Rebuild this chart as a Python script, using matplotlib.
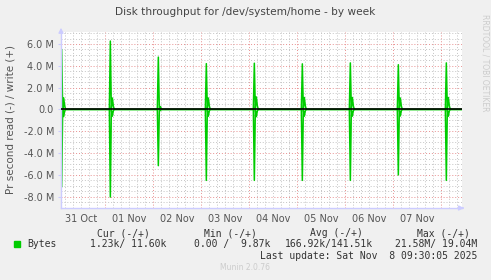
import numpy as np
import pandas as pd
import matplotlib
matplotlib.use("Agg")
import matplotlib.pyplot as plt
import matplotlib.dates as mdates
from matplotlib.ticker import MultipleLocator, FuncFormatter

# daily spike around 02:30, values in MBytes per second
spike_times = ["2025-10-31 02:20", "2025-11-01 02:40", "2025-11-02 02:40",
               "2025-11-03 02:40", "2025-11-04 02:40", "2025-11-05 02:40",
               "2025-11-06 02:40", "2025-11-07 02:40", "2025-11-08 02:40"]
write_peak = [5.5, 6.27, 4.8, 4.2, 4.24, 4.18, 4.27, 4.1, 4.27]
write_echo = [1.06, 1.05, 0.27, 1.05, 1.15, 1.1, 1.1, 1.05, 1.1]
read_peak = [7.1, 8.03, 5.15, 6.5, 6.5, 6.5, 6.5, 6.0, 6.5]
read_echo = [0.65, 0.62, 0.1, 0.62, 0.66, 0.62, 0.62, 0.6, 0.62]

x_start = "2025-10-31 02:00"
x_end = "2025-11-08 10:30"

# build the 30 minute series: baseline, spike, dip, echo, settle
t, w, r = [pd.Timestamp(x_start)], [0.0], [0.0]
for st, wp, we, rp, re in zip(spike_times, write_peak, write_echo, read_peak, read_echo):
    s = pd.Timestamp(st)
    step = pd.Timedelta(minutes=30)
    t += [s - step, s, s + step, s + 2 * step, s + 3 * step, s + 4 * step]
    w += [0.0, wp, 0.02, we, we * 0.3, 0.0]
    r += [0.0, -rp, -0.02, -re, -re * 0.2, 0.0]
t.append(pd.Timestamp(x_end))
w.append(0.0)
r.append(0.0)

fig = plt.figure(figsize=(4.91, 2.80), dpi=100, facecolor="#f0f0f0")
ax = fig.add_axes([61 / 491, 1 - 208 / 280, 401 / 491, 176 / 280], facecolor="white")

ax.plot(t, r, color="#00cc00", lw=1.1)
ax.plot(t, w, color="#00cc00", lw=1.1)
ax.axhline(0, color="black", lw=1.2, zorder=3)

ax.set_xlim(pd.Timestamp(x_start), pd.Timestamp(x_end))
ax.set_ylim(-9.03, 7.1)

# grids
ax.xaxis.set_major_locator(mdates.DayLocator())
ax.xaxis.set_minor_locator(mdates.HourLocator(byhour=[4, 8, 12, 16, 20]))
ax.xaxis.set_major_formatter(FuncFormatter(lambda v, p: ""))
ax.xaxis.set_minor_formatter(FuncFormatter(
    lambda v, p: mdates.num2date(v).strftime("%d %b") if mdates.num2date(v).hour == 12 else ""))
ax.yaxis.set_major_locator(MultipleLocator(2))
ax.yaxis.set_minor_locator(MultipleLocator(0.5))
ax.yaxis.set_major_formatter(FuncFormatter(lambda v, p: "0.0" if abs(v) < 1e-9 else "%.1f M" % v))

ax.grid(which="major", color="#e89090", lw=0.7, ls=(0, (1, 2)))
ax.grid(which="minor", color="#c4c4c4", lw=0.7, ls=(0, (1, 2)))
ax.set_axisbelow(True)

ax.tick_params(axis="x", which="both", length=0, labelsize=7, colors="#555555", pad=4)
ax.tick_params(axis="y", which="major", length=2, labelsize=7, colors="#555555", pad=3)
ax.tick_params(axis="y", which="minor", length=0)
ax.tick_params(axis="y", which="major", color="#ccccff")

for side in ["top", "right"]:
    ax.spines[side].set_visible(False)
for side in ["left", "bottom"]:
    ax.spines[side].set_color("#ccccff")
    ax.spines[side].set_linewidth(1.0)

# axis arrows
ax.annotate("", xy=(0, 1.04), xytext=(0, 0.99), xycoords="axes fraction",
            arrowprops=dict(arrowstyle="-|>", color="#ccccff", lw=1.0, mutation_scale=7),
            annotation_clip=False)
ax.annotate("", xy=(1.012, 0), xytext=(0.995, 0), xycoords="axes fraction",
            arrowprops=dict(arrowstyle="-|>", color="#ccccff", lw=1.0, mutation_scale=7),
            annotation_clip=False)

ax.set_ylabel("Pr second read (-) / write (+)", fontsize=7.5, color="#555555", labelpad=6)

fig.text(245 / 491, 1 - 12 / 280, "Disk throughput for /dev/system/home - by week",
         ha="center", va="center", fontsize=7.6, color="#444444")
fig.text(485 / 491, 1 - 14 / 280, "RRDTOOL / TOBI OETIKER", rotation=270,
         ha="center", va="top", fontsize=5.5, color="#cccccc")

# legend block
mono = dict(family="DejaVu Sans Mono", fontsize=7, color="#333333", va="center")
fig.patches.append(plt.Rectangle((14 / 491, 1 - 247 / 280), 6 / 491, 6 / 280,
                                 transform=fig.transFigure, color="#00cc00"))
fig.text(27 / 491, 1 - 244 / 280, "Bytes", **mono)
headers = ["Cur (-/+)", "Min (-/+)", "Avg (-/+)", "Max (-/+)"]
header_x = [150, 257, 363, 470]
values = ["1.23k/ 11.60k", "0.00 /  9.87k", "166.92k/141.51k", "21.58M/ 19.04M"]
value_x = [166, 270, 373, 477]
for h, hx in zip(headers, header_x):
    fig.text(hx / 491, 1 - 233 / 280, h, ha="right", **mono)
for v, vx in zip(values, value_x):
    fig.text(vx / 491, 1 - 244 / 280, v, ha="right", **mono)
fig.text(477 / 491, 1 - 256 / 280, "Last update: Sat Nov  8 09:30:05 2025", ha="right", **mono)
fig.text(245 / 491, 1 - 268 / 280, "Munin 2.0.76", ha="center", va="center",
         fontsize=5.5, color="#cccccc")

fig.savefig("out.png", dpi=100, facecolor=fig.get_facecolor())
